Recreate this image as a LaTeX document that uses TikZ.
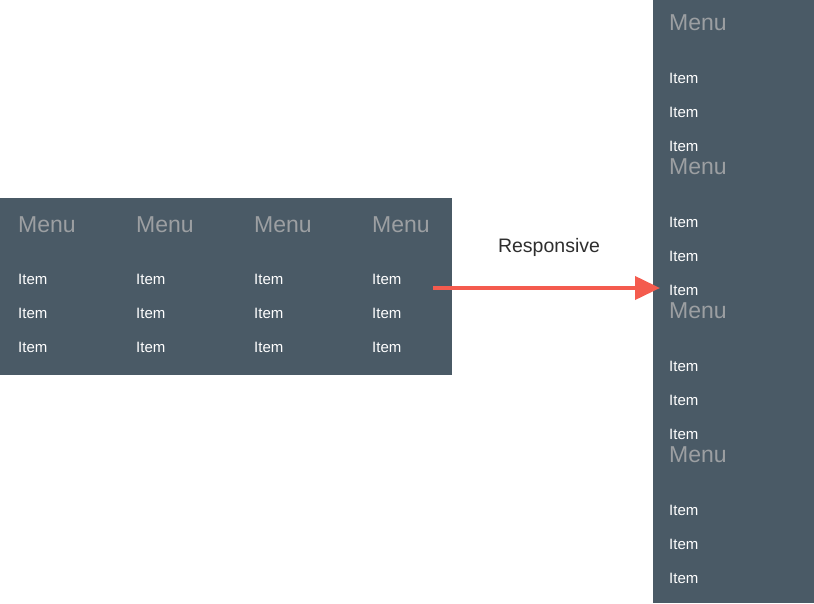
\documentclass[tikz,border=0pt]{standalone}
\usepackage{fontspec}
\setmainfont{Liberation Sans}
\usetikzlibrary{arrows.meta}
\definecolor{panel}{HTML}{4A5A66}
\definecolor{menugray}{HTML}{9C9FA2}
\definecolor{arrowred}{HTML}{F45B4E}
\definecolor{txt}{HTML}{2E2E2E}
\tikzset{
  panelbox/.style={fill=panel, draw=none, inner sep=0pt, outer sep=0pt},
  menutext/.style={anchor=base west, inner sep=0pt, text=menugray, font=\fontsize{23}{23}\selectfont},
  itemtext/.style={anchor=base west, inner sep=0pt, text=white, font=\fontsize{15}{15}\selectfont},
  bigarrow/.style={draw=arrowred, line width=4pt, -{Triangle[length=25pt, width=23pt]}}
}
\begin{document}
\begin{tikzpicture}[x=1pt, y=-1pt]
\useasboundingbox (0,0) rectangle (814,603);
\fill[white] (0,0) rectangle (814,603);
% left panel
\path[panelbox] (0,198) rectangle (452,375);
% right panel
\path[panelbox] (653,0) rectangle (814,603);
% left menus
\foreach \c/\x in {1/18,2/136,3/254,4/372}{
  \node[menutext] (lm\c) at (\x,232.5) {Menu};
  \node[itemtext] (li\c a) at (\x,284) {Item};
  \node[itemtext] (li\c b) at (\x,318) {Item};
  \node[itemtext] (li\c c) at (\x,352) {Item};
}
% right menus
\foreach \r/\y in {1/0,2/144,3/288,4/432}{
  \node[menutext] (rm\r) at (669,30.5+\y) {Menu};
  \node[itemtext] (ri\r a) at (669,83+\y) {Item};
  \node[itemtext] (ri\r b) at (669,117+\y) {Item};
  \node[itemtext] (ri\r c) at (669,151+\y) {Item};
}
\node[text=txt, font=\fontsize{19.5}{19.5}\selectfont, inner sep=0pt] (resp) at (549,247) {Responsive};
\coordinate (astart) at (433,288);
\coordinate (aend) at (660,288);
\draw[bigarrow] (astart) -- (aend);
\end{tikzpicture}
\end{document}
